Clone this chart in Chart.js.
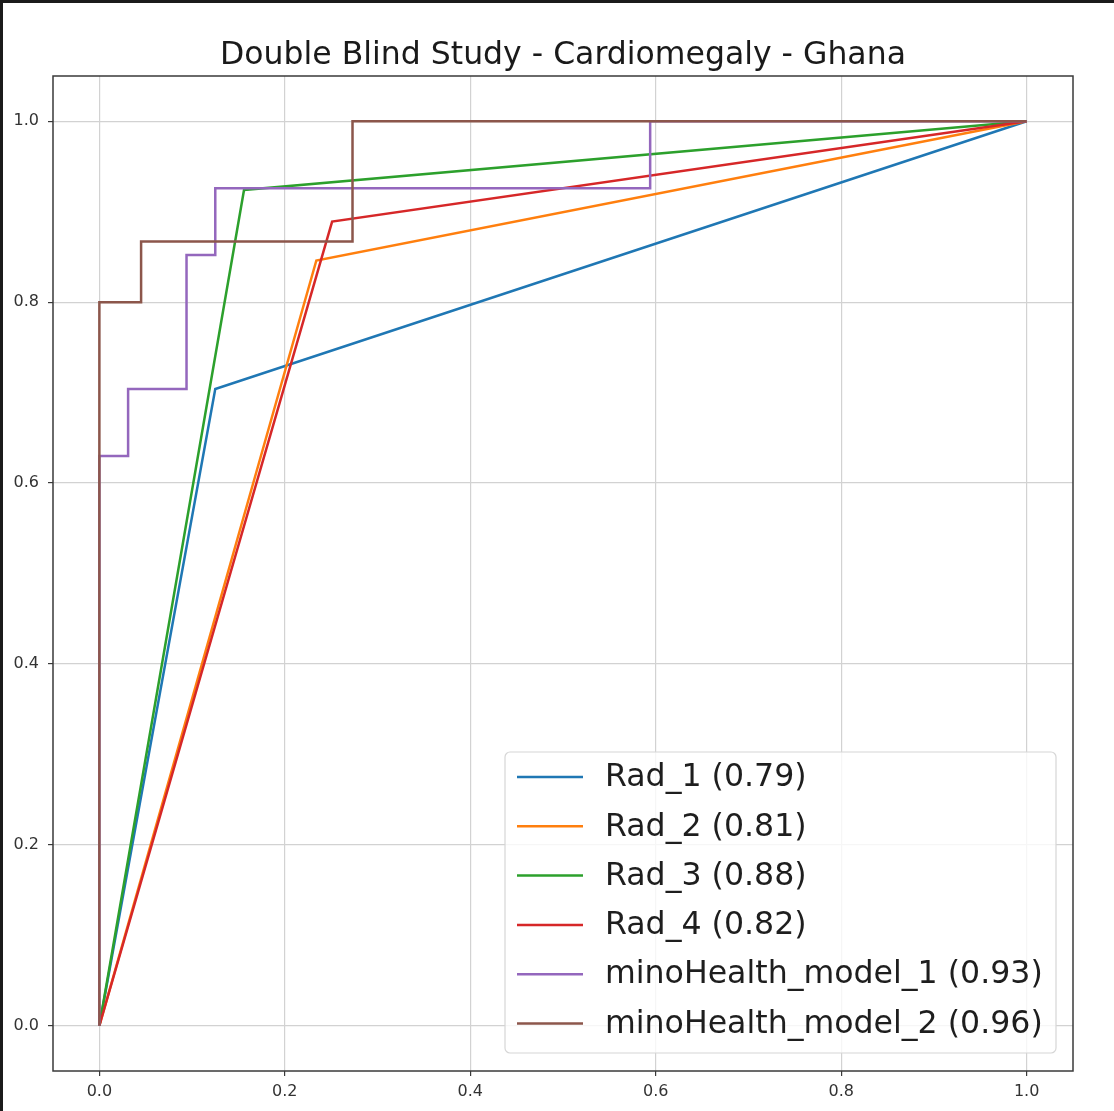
<!DOCTYPE html>
<html>
<head>
<meta charset="utf-8">
<script src="https://cdn.jsdelivr.net/npm/chart.js@4.4.0/dist/chart.umd.min.js"></script>
<style>
html,body{margin:0;padding:0;background:#fff;}
canvas{display:block;}
</style>
</head>
<body>
<canvas id="c" width="1114" height="1111"></canvas>
<script>
// ---- data ----
const titleText = "Double Blind Study - Cardiomegaly - Ghana";
const seriesNames = ["Rad_1 (0.79)", "Rad_2 (0.81)", "Rad_3 (0.88)", "Rad_4 (0.82)", "minoHealth_model_1 (0.93)", "minoHealth_model_2 (0.96)"];
const seriesColors = ["#1f77b4", "#ff7f0e", "#2ca02c", "#d62728", "#9467bd", "#8c564b"];

const rad1X = [0, 0.125, 1];
const rad1Y = [0, 0.704, 1];
const rad2X = [0, 0.234, 1];
const rad2Y = [0, 0.846, 1];
const rad3X = [0, 0.156, 1];
const rad3Y = [0, 0.924, 1];
const rad4X = [0, 0.251, 1];
const rad4Y = [0, 0.889, 1];
const model1X = [0, 0, 0.031, 0.031, 0.094, 0.094, 0.125, 0.125, 0.594, 0.594, 1];
const model1Y = [0, 0.630, 0.630, 0.704, 0.704, 0.852, 0.852, 0.926, 0.926, 1, 1];
const model2X = [0, 0, 0.045, 0.045, 0.273, 0.273, 1];
const model2Y = [0, 0.800, 0.800, 0.867, 0.867, 1, 1];

const xTicks = [0, 0.2, 0.4, 0.6, 0.8, 1.0];
const yTicks = [0, 0.2, 0.4, 0.6, 0.8, 1.0];

const allX = [rad1X, rad2X, rad3X, rad4X, model1X, model2X];
const allY = [rad1Y, rad2Y, rad3Y, rad4Y, model1Y, model2Y];

const datasets = seriesNames.map((name, i) => ({
  label: name,
  data: allX[i].map((x, j) => ({x: x, y: allY[i][j]})),
  borderColor: seriesColors[i],
  backgroundColor: seriesColors[i],
  borderWidth: 2.5,
  pointRadius: 0,
  tension: 0,
  fill: false,
  order: seriesNames.length - i
}));

const FONT = "'DejaVu Sans', sans-serif";

const framePlugin = {
  id: 'frame',
  beforeDraw(chart) {
    const ctx = chart.ctx;
    ctx.save();
    ctx.fillStyle = '#ffffff';
    ctx.fillRect(0, 0, chart.width, chart.height);
    ctx.fillStyle = '#1b1b1b';
    ctx.fillRect(0, 0, chart.width, 3);
    ctx.fillRect(0, 0, 3, chart.height);
    ctx.restore();
  }
};

const spinePlugin = {
  id: 'spines',
  afterDatasetsDraw(chart) {
    const a = chart.chartArea;
    const ctx = chart.ctx;
    ctx.save();
    ctx.strokeStyle = '#3a3a3a';
    ctx.lineWidth = 1.5;
    ctx.strokeRect(a.left, a.top, a.right - a.left, a.bottom - a.top);
    ctx.restore();
  }
};

const legendPlugin = {
  id: 'boxLegend',
  afterDraw(chart) {
    const a = chart.chartArea;
    const ctx = chart.ctx;
    const right = a.right - 17, bottom = a.bottom - 18;
    const w = 551, h = 301;
    const left = right - w, top = bottom - h;
    ctx.save();
    ctx.beginPath();
    if (ctx.roundRect) ctx.roundRect(left, top, w, h, 5); else ctx.rect(left, top, w, h);
    ctx.fillStyle = 'rgba(255,255,255,0.8)';
    ctx.fill();
    ctx.strokeStyle = '#d6d6d6';
    ctx.lineWidth = 1.2;
    ctx.stroke();
    ctx.font = "31.6px " + FONT;
    ctx.textBaseline = 'middle';
    ctx.textAlign = 'left';
    chart.data.datasets.forEach((ds, i) => {
      const cy = top + 25 + i * 49.3;
      ctx.strokeStyle = ds.borderColor;
      ctx.lineWidth = 2.5;
      ctx.beginPath();
      ctx.moveTo(left + 12, cy);
      ctx.lineTo(left + 78, cy);
      ctx.stroke();
      ctx.fillStyle = '#1e1e1e';
      ctx.fillText(ds.label, left + 100, cy + 1);
    });
    ctx.restore();
  }
};

const tickFont = {family: FONT, size: 16};

new Chart(document.getElementById('c'), {
  type: 'line',
  data: {datasets: datasets},
  options: {
    responsive: false,
    devicePixelRatio: 1,
    animation: false,
    layout: {padding: {left: 0, right: 41, top: 0, bottom: 0}},
    plugins: {
      legend: {display: false},
      tooltip: {enabled: false},
      title: {
        display: true,
        text: titleText,
        fullSize: false,
        color: '#1a1a1a',
        font: {family: FONT, size: 31.5, weight: 'normal', lineHeight: 1.2},
        padding: {top: 37, bottom: 1.2}
      }
    },
    scales: {
      x: {
        type: 'linear',
        min: -0.05,
        max: 1.05,
        afterBuildTicks(scale) { scale.ticks = xTicks.map(v => ({value: v})); },
        afterFit(scale) { scale.height = 40; },
        ticks: {
          callback: v => v.toFixed(1),
          font: tickFont,
          color: '#333',
          padding: 6,
          maxRotation: 0
        },
        grid: {color: '#d2d2d2', lineWidth: 1.2, tickColor: '#3a3a3a', tickLength: 5, tickWidth: 1.2},
        border: {display: false}
      },
      y: {
        type: 'linear',
        min: -0.05,
        max: 1.05,
        afterBuildTicks(scale) { scale.ticks = yTicks.map(v => ({value: v})); },
        afterFit(scale) { scale.width = 53; },
        ticks: {
          callback: v => v.toFixed(1),
          font: tickFont,
          color: '#333',
          padding: 9
        },
        grid: {color: '#d2d2d2', lineWidth: 1.2, tickColor: '#3a3a3a', tickLength: 5, tickWidth: 1.2},
        border: {display: false}
      }
    }
  },
  plugins: [framePlugin, spinePlugin, legendPlugin]
});
</script>
</body>
</html>
